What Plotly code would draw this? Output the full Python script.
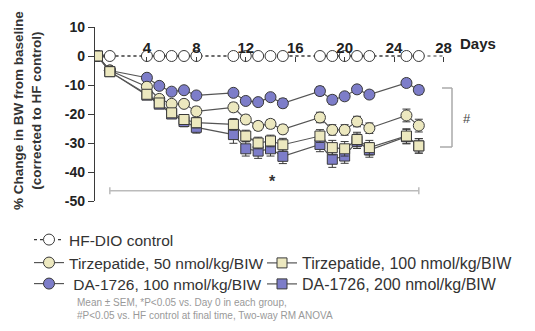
import plotly.graph_objects as go

days = [0, 1, 4, 5, 6, 7, 8, 11, 12, 13, 14, 15, 18, 19, 20, 21, 22, 25, 26]

control = [0] * len(days)
da100 = [0, -5.0, -7.5, -10.3, -12.3, -11.8, -13.6, -12.7, -15.5, -15.9, -14.2, -16.3,
         -12.1, -15.1, -13.9, -11.5, -13.3, -9.3, -11.7]
da100_sem = [0, 0.5, 1, 1, 1, 1, 1, 1, 1.2, 1.2, 1.2, 1.5, 1.5, 1.5, 1.3, 1.3, 1.3, 1.3, 1.5]
tirz50 = [0, -5.0, -10.6, -14.8, -16.5, -16.5, -19.1, -17.7, -21.9, -24.1, -23.4, -25.3,
          -21.2, -25.5, -25.5, -22.6, -24.9, -20.5, -24.0]
tirz50_sem = [0, 0.5, 1, 1, 1.2, 1.2, 1.5, 1.5, 1.5, 1.5, 1.5, 1.5, 1.8, 1.8, 1.8, 1.8, 1.8, 2.2, 2.2]
tirz100 = [0, -5.4, -13.2, -16.2, -19.6, -21.9, -23.0, -23.6, -27.6, -30.0, -29.3, -30.6,
           -27.6, -31.6, -32.0, -28.8, -31.6, -27.6, -31.0]
tirz100_sem = [0, 0.5, 1, 1.2, 1.5, 1.5, 1.8, 2, 2, 2, 2, 2.2, 2.2, 2.5, 2.5, 2.5, 2.5, 2.5, 2.5]
da200 = [0, -5.4, -13.5, -16.6, -20.0, -22.6, -24.6, -27.1, -32.0, -32.8, -32.0, -34.6,
         -30.5, -35.6, -34.5, -29.4, -32.4, -27.8, -31.0]
da200_sem = [0, 0.5, 1, 1.2, 1.5, 1.8, 2, 3, 2.5, 2.5, 2.5, 2.5, 2.5, 2.8, 2.5, 2.5, 2.5, 2.5, 2.5]

x_ticks = [4, 8, 12, 16, 20, 24, 28]
y_ticks = [10, 0, -10, -20, -30, -40, -50]

FONT = "Arial, Liberation Sans, sans-serif"
EDGE = "#3a3a3a"
YEL = "#ECE8BF"
BLUE = "#7D7DC9"

fig = go.Figure()

def err(sem):
    return dict(type="data", array=sem, visible=True, color=EDGE, thickness=1, width=4)

fig.add_trace(go.Scatter(
    x=days, y=control, name="HF-DIO control", mode="lines+markers",
    line=dict(color=EDGE, width=1.2, dash="dot"),
    marker=dict(symbol="circle", size=11, color="white", line=dict(color=EDGE, width=1)),
    legend="legend", showlegend=True))
fig.add_trace(go.Scatter(
    x=days, y=da100, error_y=err(da100_sem), name=" DA-1726, 100 nmol/kg/BIW",
    mode="lines+markers", line=dict(color="#555", width=1.2),
    marker=dict(symbol="circle", size=11, color=BLUE, line=dict(color=EDGE, width=1)),
    legend="legend4", showlegend=True))
fig.add_trace(go.Scatter(
    x=days, y=tirz50, error_y=err(tirz50_sem), name="Tirzepatide, 50 nmol/kg/BIW",
    mode="lines+markers", line=dict(color="#555", width=1.2),
    marker=dict(symbol="circle", size=11, color=YEL, line=dict(color=EDGE, width=1)),
    legend="legend2", showlegend=True))
fig.add_trace(go.Scatter(
    x=days, y=da200, error_y=err(da200_sem), name="DA-1726, 200 nmol/kg/BIW",
    mode="lines+markers", line=dict(color="#555", width=1.2),
    marker=dict(symbol="square", size=10, color=BLUE, line=dict(color=EDGE, width=1)),
    legend="legend5", showlegend=True))
fig.add_trace(go.Scatter(
    x=days, y=tirz100, error_y=err(tirz100_sem), name="Tirzepatide, 100 nmol/kg/BIW",
    mode="lines+markers", line=dict(color="#555", width=1.2),
    marker=dict(symbol="square", size=10, color=YEL, line=dict(color=EDGE, width=1)),
    legend="legend3", showlegend=True))

# geometry (screen coordinates; page body adds an 8px offset)
OFF = 8
L = 95 - OFF
T = 27 - OFF
R = 535 - (446 - OFF)
B = 331 - (201 - OFF)
PW = 535 - L - R
PH = 331 - T - B
def px(xs):
    return (xs - OFF - L) / PW
def py(ys):
    return (331 - B - (ys - OFF)) / PH

shapes = [
    dict(type="line", xref="x", yref="y", x0=0, x1=28, y0=0, y1=0,
         line=dict(color=EDGE, width=1.2, dash="dot"), layer="below"),
    dict(type="line", xref="x", yref="y", x0=1, x1=26, y0=-46.5, y1=-46.5,
         line=dict(color="#bbbbbb", width=1.5)),
    dict(type="line", xref="x", yref="y", x0=1, x1=1, y0=-45.3, y1=-47.7,
         line=dict(color="#bbbbbb", width=1.5)),
    dict(type="line", xref="x", yref="y", x0=26, x1=26, y0=-45.3, y1=-47.7,
         line=dict(color="#bbbbbb", width=1.5)),
    dict(type="line", xref="paper", yref="paper", x0=px(452), x1=px(452), y0=py(88), y1=py(147),
         line=dict(color="#aaaaaa", width=1.5)),
    dict(type="line", xref="paper", yref="paper", x0=px(442), x1=px(452), y0=py(88), y1=py(88),
         line=dict(color="#aaaaaa", width=1.5)),
    dict(type="line", xref="paper", yref="paper", x0=px(440), x1=px(452), y0=py(147), y1=py(147),
         line=dict(color="#aaaaaa", width=1.5)),
]

annotations = [
    dict(text="<b>% Change in BW from baseline<br>(corrected to HF control)</b>",
         xref="paper", yref="paper", x=px(27), y=py(111), xanchor="center", yanchor="middle",
         textangle=-90, showarrow=False, font=dict(family=FONT, size=13.5, color="#333"),
         align="center"),
    dict(text="<b>Days</b>", xref="paper", yref="paper", x=px(458), y=py(43),
         xanchor="left", yanchor="middle", showarrow=False,
         font=dict(family=FONT, size=15, color="#222")),
    dict(text="#", xref="paper", yref="paper", x=px(467), y=py(118),
         xanchor="center", yanchor="middle",
         showarrow=False, font=dict(family=FONT, size=13, color="#444")),
    dict(text="<b>*</b>", xref="x", yref="y", x=14.2, y=-43.3,
         showarrow=False, font=dict(family=FONT, size=16, color="#333")),
    dict(text="Mean ± SEM, *P&lt;0.05 vs. Day 0 in each group,<br>"
              "#P&lt;0.05 vs. HF control at final time, Two-way RM ANOVA",
         xref="paper", yref="paper", x=px(75), y=py(309), xanchor="left", yanchor="middle",
         align="left", showarrow=False, font=dict(family=FONT, size=10, color="#999")),
]

def leg(xs, ys, size):
    return dict(x=(xs - OFF) / 535, y=1 - (ys - OFF) / 331,
                xref="container", yref="container", xanchor="left", yanchor="middle",
                font=dict(family=FONT, size=size, color="#333"), bgcolor="rgba(0,0,0,0)",
                itemclick=False, itemdoubleclick=False, orientation="v")

fig.update_layout(
    width=535, height=331,
    margin=dict(l=L, r=R, t=T, b=B, autoexpand=False),
    paper_bgcolor="white", plot_bgcolor="white",
    font=dict(family=FONT),
    showlegend=True,
    xaxis=dict(range=[-0.2, 28.2], tickvals=x_ticks, ticktext=[str(v) for v in x_ticks],
               anchor="free", position=50 / 60, side="top", ticks="inside", ticklen=5,
               tickcolor=EDGE, showline=False, showgrid=False, zeroline=False,
               tickfont=dict(family=FONT, size=15, color="#222", weight="bold"),
               ticklabelstandoff=0),
    yaxis=dict(range=[-50, 10], tickvals=y_ticks, ticktext=[str(v) for v in y_ticks],
               ticks="outside", ticklen=6, tickcolor=EDGE, showline=True, linecolor=EDGE,
               linewidth=1.2, showgrid=False, zeroline=False,
               tickfont=dict(family=FONT, size=14, color="#222", weight="bold")),
    legend=leg(29, 240, 15.5),
    legend2=leg(29, 263, 15.5),
    legend3=leg(262, 263, 16),
    legend4=leg(29, 284, 15.5),
    legend5=leg(262, 284, 16),
    shapes=shapes, annotations=annotations,
)

fig.write_html("out.html")
